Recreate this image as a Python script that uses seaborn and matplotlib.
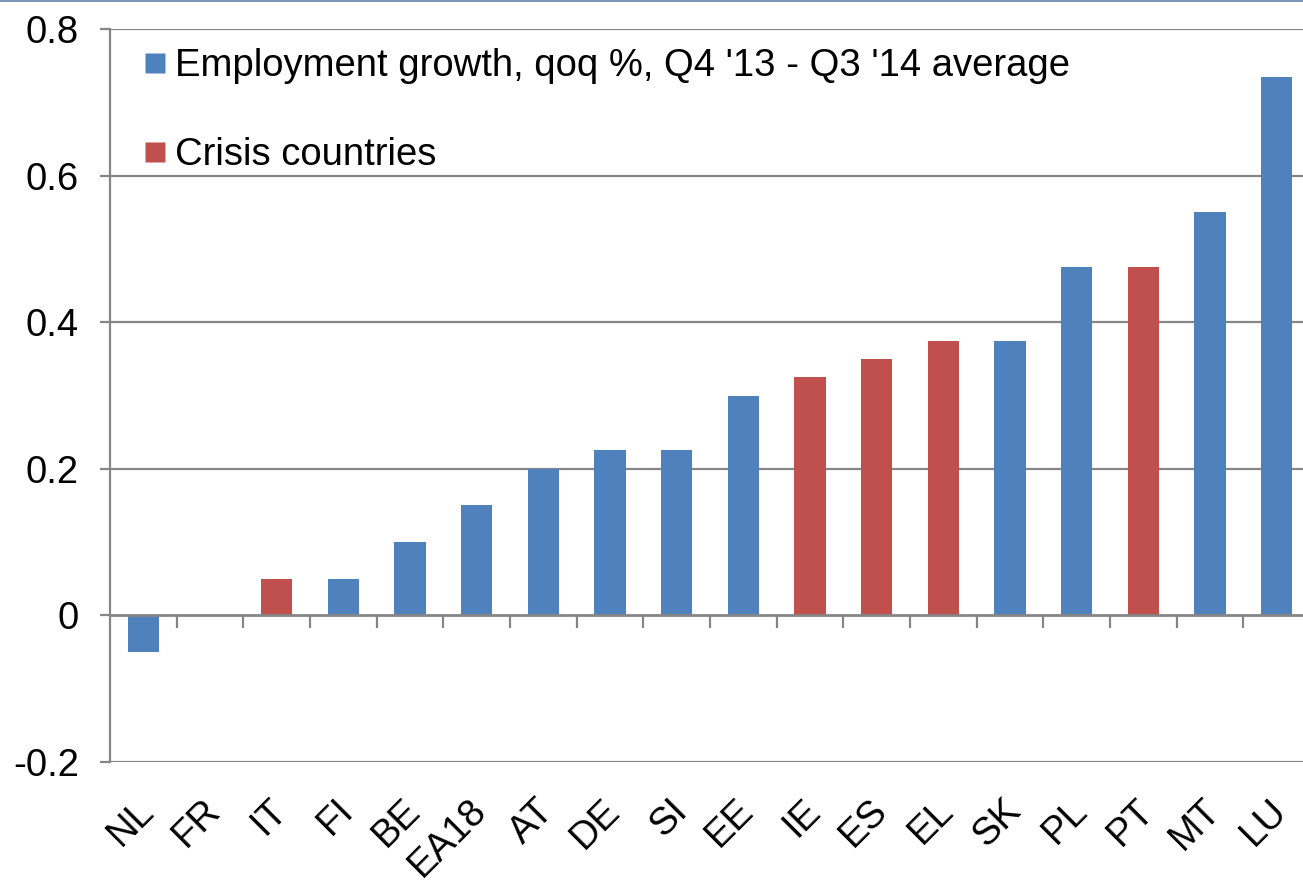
import matplotlib
matplotlib.use("Agg")
import matplotlib.pyplot as plt
from matplotlib.lines import Line2D
from matplotlib.transforms import ScaledTranslation
import seaborn as sns
import pandas as pd

countries = ["NL", "FR", "IT", "FI", "BE", "EA18", "AT", "DE", "SI", "EE",
             "IE", "ES", "EL", "SK", "PL", "PT", "MT", "LU"]
growth = [-0.05, 0.0, 0.05, 0.05, 0.10, 0.15, 0.20, 0.225, 0.225, 0.30,
          0.325, 0.35, 0.375, 0.375, 0.475, 0.475, 0.55, 0.735]
crisis = ["IT", "IE", "ES", "EL", "PT"]
series_label = "Employment growth, qoq %, Q4 '13 - Q3 '14 average"
crisis_label = "Crisis countries"
y_ticks = [-0.2, 0.0, 0.2, 0.4, 0.6, 0.8]
y_ticklabels = ["-0.2", "0", "0.2", "0.4", "0.6", "0.8"]

BLUE = "#4F81BD"
RED = "#C0504D"
GRID = "#868686"

df = pd.DataFrame({
    "country": countries,
    "growth": growth,
    "group": [crisis_label if c in crisis else series_label for c in countries],
})

sns.set_style("white")
plt.rcParams["font.family"] = ["Liberation Sans", "DejaVu Sans"]
plt.rcParams["text.color"] = "black"
plt.rcParams["xtick.color"] = "black"
plt.rcParams["ytick.color"] = "black"

W, H = 1303, 881
fig = plt.figure(figsize=(W / 100, H / 100), dpi=100)
ax = fig.add_axes([110 / W, (H - 762) / H, 1200 / W, 733 / H])

sns.barplot(data=df, x="country", y="growth", hue="group",
            palette={series_label: BLUE, crisis_label: RED},
            order=countries, dodge=False, width=0.47, legend=False,
            saturation=1, edgecolor="none", ax=ax)

n = len(countries)
ax.set_xlim(-0.5, n - 0.5)
ax.set_ylim(-0.2, 0.8)

# horizontal gridlines
for yv in y_ticks:
    if yv != 0:
        ax.axhline(yv, color=GRID, lw=1.6, zorder=0)

ax.set_yticks(y_ticks)
ax.set_yticklabels(y_ticklabels)
ax.tick_params(axis="y", length=7.5, width=1.6, color=GRID, labelcolor="black",
               pad=15, labelsize=27.5, left=True)

for s in ["top", "right"]:
    ax.spines[s].set_visible(False)
ax.spines["left"].set_color(GRID)
ax.spines["left"].set_linewidth(1.6)
ax.spines["bottom"].set_position(("data", 0))
ax.spines["bottom"].set_color(GRID)
ax.spines["bottom"].set_linewidth(2)
ax.spines["bottom"].set_zorder(3)

# category separators on the zero axis
ax.set_xticks(range(n))
ax.set_xticklabels([])
ax.set_xticks([i + 0.5 for i in range(n - 1)], minor=True)
ax.tick_params(axis="x", which="major", length=0)
ax.tick_params(axis="x", which="minor", length=9, width=1.6, color=GRID,
               direction="out", bottom=True)
ax.set_xlabel("")
ax.set_ylabel("")

# category labels below the plot area
sec = ax.secondary_xaxis(0)
sec.set_xticks(range(n))
sec.set_xticklabels(countries, rotation=45, ha="right",
                    rotation_mode="anchor", fontsize=27.5, color="black")
sec.tick_params(length=0, pad=22)
sec.spines["bottom"].set_visible(False)
shift = ScaledTranslation(-8 / 100, 0, fig.dpi_scale_trans)
for lbl in sec.get_xticklabels():
    lbl.set_transform(lbl.get_transform() + shift)

handles = [
    Line2D([], [], marker="s", linestyle="none", markersize=15,
           markerfacecolor=BLUE, markeredgecolor="none"),
    Line2D([], [], marker="s", linestyle="none", markersize=15,
           markerfacecolor=RED, markeredgecolor="none"),
]
fig.legend(handles, [series_label, crisis_label], loc="upper left",
           bbox_to_anchor=(144 / W, 1 - 48 / H), frameon=False,
           fontsize=27.5, handlelength=0.6, handletextpad=0.22,
           labelspacing=1.4, borderpad=0, borderaxespad=0)

# thin rule across the top of the figure
fig.add_artist(Line2D([0, 1], [1 - 1 / H, 1 - 1 / H], transform=fig.transFigure,
                      color="#7F96BC", lw=1.5))

fig.savefig("out.png", dpi=100)
